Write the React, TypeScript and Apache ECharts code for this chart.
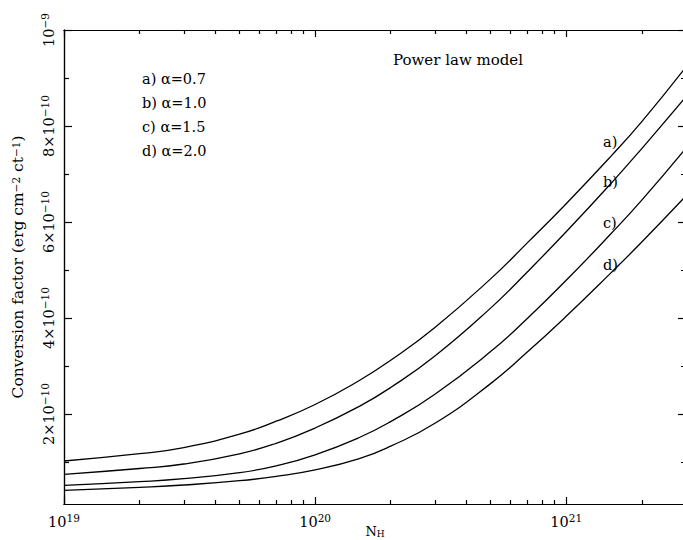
import React, { useEffect, useRef } from "react";
import * as echarts from "echarts";

// Column density N_H (cm^-2)
const nH = [1e19, 2e19, 3e19, 5e19, 7e19, 1e20, 1.5e20, 2e20, 3e20, 5e20, 7e20, 1e21, 1.5e21, 2e21, 3e21];
// Conversion factor in units of 1e-10 erg cm^-2 ct^-1
const curveA = [1.021, 1.173, 1.3, 1.58, 1.85, 2.198, 2.698, 3.119, 3.804, 4.815, 5.565, 6.381, 7.358, 8.09, 9.23];
const curveB = [0.744, 0.865, 0.958, 1.17, 1.39, 1.708, 2.16, 2.552, 3.208, 4.206, 4.96, 5.796, 6.79, 7.53, 8.61];
const curveC = [0.515, 0.59, 0.652, 0.777, 0.92, 1.15, 1.51, 1.842, 2.41, 3.3, 3.99, 4.785, 5.744, 6.456, 7.54];
const curveD = [0.41, 0.473, 0.521, 0.61, 0.7, 0.835, 1.07, 1.33, 1.806, 2.633, 3.29, 4.035, 4.929, 5.583, 6.546];

const seriesNames = ["a)", "b)", "c)", "d)"];
const alphaValues = ["0.7", "1.0", "1.5", "2.0"];

const xMajorTicks = [1e19, 1e20, 1e21];
const xMinorTicks = [
  2e19, 3e19, 4e19, 5e19, 6e19, 7e19, 8e19, 9e19,
  2e20, 3e20, 4e20, 5e20, 6e20, 7e20, 8e20, 9e20,
  2e21, 3e21,
];
const yMajorTicks = [2, 4, 6, 8, 10];
const yMinorTicks = [1, 3, 5, 7, 9];

const X_MIN = 1e19;
const X_MAX = 3e21;
const Y_MIN = 0.125;
const Y_MAX = 10;

const FONT = "DejaVu Serif";
const lg = (v: number) => Math.log10(v);

export default function App() {
  const ref = useRef<HTMLDivElement>(null);

  useEffect(() => {
    document.body.style.margin = "0";
    if (!ref.current) return;
    const chart = echarts.init(ref.current, undefined, { renderer: "svg" });

    const lineStyle = { color: "#000", width: 1.2 };
    const rich = {
      b: { fontSize: 14.5, fontFamily: FONT, color: "#000", lineHeight: 20 },
      s: { fontSize: 10.5, fontFamily: FONT, color: "#000", verticalAlign: "top" as const, lineHeight: 12 },
    };

    // x axis is drawn in log10(N_H) space (logarithmic axis)
    const xBase = {
      type: "value" as const,
      min: lg(X_MIN),
      max: lg(X_MAX),
      splitLine: { show: false },
      axisLine: { show: true, lineStyle },
    };
    const yBase = {
      type: "value" as const,
      min: Y_MIN,
      max: Y_MAX,
      splitLine: { show: false },
      axisLine: { show: true, lineStyle },
    };

    const xMajorLog = xMajorTicks.map(lg);
    const xMinorLog = xMinorTicks.map(lg);

    const xAxis = [
      {
        ...xBase,
        position: "bottom",
        axisTick: { show: true, inside: true, length: 7, customValues: xMajorLog, lineStyle },
        axisLabel: {
          show: true,
          margin: 8,
          customValues: xMajorLog,
          formatter: (v: number) => `{b|10}{s|${Math.round(v)}}`,
          rich,
        },
        name: "{n|N}{h|H}",
        nameLocation: "middle",
        nameGap: 21,
        nameMoveOverlap: false,
        nameTextStyle: {
          rich: {
            n: { fontSize: 13, fontFamily: FONT, color: "#000", lineHeight: 13 },
            h: { fontSize: 9, fontFamily: FONT, color: "#000", verticalAlign: "bottom" as const, lineHeight: 9 },
          },
        },
      },
      {
        ...xBase,
        position: "bottom",
        axisTick: { show: true, inside: true, length: 4, customValues: xMinorLog, lineStyle },
        axisLabel: { show: false },
      },
      {
        ...xBase,
        position: "top",
        axisTick: { show: true, inside: true, length: 7, customValues: xMajorLog, lineStyle },
        axisLabel: { show: false },
      },
      {
        ...xBase,
        position: "top",
        axisTick: { show: true, inside: true, length: 4, customValues: xMinorLog, lineStyle },
        axisLabel: { show: false },
      },
    ];

    const yAxis = [
      {
        ...yBase,
        position: "left",
        axisTick: { show: true, inside: true, length: 8, customValues: yMajorTicks, lineStyle },
        axisLabel: {
          show: true,
          rotate: 90,
          margin: 5,
          customValues: yMajorTicks,
          formatter: (v: number) => (v === 10 ? "{b|10}{s|−9}" : `{b|${v}×10}{s|−10}`),
          rich,
        },
        name: "Conversion factor (erg cm{s|−2} ct{s|−1})",
        nameLocation: "middle",
        nameGap: 38,
        nameTextStyle: {
          fontSize: 15.5,
          fontFamily: FONT,
          color: "#000",
          rich: {
            s: { fontSize: 10.5, fontFamily: FONT, color: "#000", verticalAlign: "top" as const, lineHeight: 10 },
          },
        },
      },
      {
        ...yBase,
        position: "left",
        axisTick: { show: true, inside: true, length: 5, customValues: yMinorTicks, lineStyle },
        axisLabel: { show: false },
      },
      {
        ...yBase,
        position: "right",
        axisTick: { show: true, inside: true, length: 8, customValues: yMajorTicks, lineStyle },
        axisLabel: { show: false },
      },
      {
        ...yBase,
        position: "right",
        axisTick: { show: true, inside: true, length: 5, customValues: yMinorTicks, lineStyle },
        axisLabel: { show: false },
      },
    ];

    const curves = [curveA, curveB, curveC, curveD];
    const series = curves.map((vals, i) => ({
      type: "line" as const,
      name: seriesNames[i],
      xAxisIndex: 0,
      yAxisIndex: 0,
      data: nH.map((n, j) => [lg(n), vals[j]]),
      smooth: 0.5,
      showSymbol: false,
      lineStyle: { color: "#000", width: 1.3 },
      silent: true,
    }));

    const textStyle = { fontSize: 14.5, fontFamily: FONT, fill: "#000" };
    const legendTops = [71, 95, 119, 143];
    const curveLabelTops = [134, 174, 215, 257];

    const graphic: any[] = [
      { type: "text", x: 393, y: 52, style: { ...textStyle, fontSize: 15, text: "Power law model" } },
    ];
    seriesNames.forEach((nm, i) => {
      graphic.push({
        type: "text",
        x: 142,
        y: legendTops[i],
        style: { ...textStyle, text: `${nm} α=${alphaValues[i]}` },
      });
      graphic.push({
        type: "text",
        x: 603,
        y: curveLabelTops[i],
        style: { ...textStyle, text: nm },
      });
    });

    chart.setOption({
      animation: false,
      backgroundColor: "#fff",
      grid: { left: 64, right: -3, top: 30, bottom: 36, outerBoundsMode: "none" },
      xAxis,
      yAxis,
      series,
      graphic,
    });

    return () => chart.dispose();
  }, []);

  return <div ref={ref} style={{ width: 683, height: 540 }} />;
}
